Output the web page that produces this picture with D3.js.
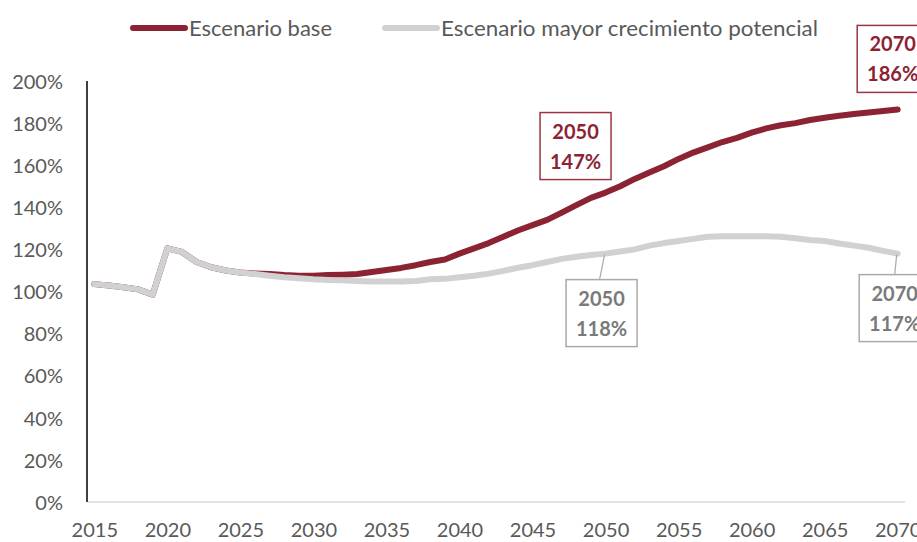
<!DOCTYPE html>
<html>
<head>
<meta charset="utf-8">
<script src="https://cdn.jsdelivr.net/npm/d3@7"></script>
<style>
  html, body { margin: 0; padding: 0; background: #fff; }
  svg { display: block; }
  text { font-family: Lato, "Open Sans", sans-serif; }
</style>
</head>
<body>
<svg id="chart" width="917" height="542"></svg>
<script>
// ---------- DATA ----------
const years = [2015,2016,2017,2018,2019,2020,2021,2022,2023,2024,2025,2026,2027,2028,2029,
  2030,2031,2032,2033,2034,2035,2036,2037,2038,2039,2040,2041,2042,2043,2044,
  2045,2046,2047,2048,2049,2050,2051,2052,2053,2054,2055,2056,2057,2058,2059,
  2060,2061,2062,2063,2064,2065,2066,2067,2068,2069,2070];

const escenarioBase = [103.5,102.8,102.0,101.0,98.5,120.5,118.8,114.0,111.5,110.0,109.0,108.6,108.3,107.8,107.5,
  107.5,107.8,108.0,108.3,109.3,110.2,111.2,112.5,114.0,115.2,118.0,120.5,123.0,126.0,129.0,
  131.5,134.0,137.5,141.0,144.5,147.0,150.0,153.5,156.5,159.5,163.0,166.0,168.5,171.0,173.0,
  175.5,177.5,179.0,180.0,181.5,182.5,183.5,184.3,185.0,185.7,186.5];

const escenarioMayor = [103.5,102.8,102.0,101.0,98.5,120.5,118.8,114.0,111.5,110.0,109.0,108.3,107.5,106.8,106.3,
  105.8,105.5,105.3,105.0,104.8,104.8,104.8,105.0,105.8,106.0,106.8,107.5,108.5,109.8,111.3,
  112.5,114.0,115.5,116.5,117.3,118.0,119.0,120.0,121.8,123.0,124.0,125.0,126.0,126.2,126.2,
  126.2,126.2,126.0,125.3,124.5,124.0,122.8,121.8,120.8,119.3,118.0];

const seriesNames = ["Escenario base", "Escenario mayor crecimiento potencial"];
const yTicks = [0,20,40,60,80,100,120,140,160,180,200];
const xTicks = [2015,2020,2025,2030,2035,2040,2045,2050,2055,2060,2065,2070];

// annotations: [series index, year, label value]
const annotations = [
  {s: 0, year: 2050, label: "147%"},
  {s: 0, year: 2070, label: "186%"},
  {s: 1, year: 2050, label: "118%"},
  {s: 1, year: 2070, label: "117%"}
];

// ---------- STYLE / LAYOUT ----------
const colors = ["#8c2333", "#d0d1d0"];
const textColors = ["#8c2333", "#7a7a7a"];
const boxBorder = ["#9b3543", "#a9a9a9"];
const axisTextColor = "#595959";

const svg = d3.select("#chart");

const x = d3.scalePoint().domain(years).range([87, 905]).padding(0.5);
const y = d3.scaleLinear().domain([0, 200]).range([502, 81]);

// Y axis labels
const yAxis = d3.axisLeft(y).tickValues(yTicks).tickSize(0).tickPadding(24)
  .tickFormat(d => d + "%");
const gy = svg.append("g").attr("transform", "translate(87,0)").call(yAxis);
gy.select(".domain").remove();
gy.selectAll("text").attr("fill", axisTextColor).style("font-size", "20px")
  .style("font-family", "Lato, 'Open Sans', sans-serif").attr("dy", "0.36em");

// X axis labels
const xAxis = d3.axisBottom(x).tickValues(xTicks).tickSize(0);
const gx = svg.append("g").attr("transform", "translate(0,502)").call(xAxis);
gx.select(".domain").remove();
gx.selectAll("text").attr("fill", axisTextColor).style("font-size", "20px")
  .style("font-family", "Lato, 'Open Sans', sans-serif").attr("dy", null).attr("y", 35);

// baseline (category axis)
svg.append("line").attr("x1", 87).attr("x2", 905).attr("y1", y(0)).attr("y2", y(0))
  .attr("stroke", "#d9d9d9").attr("stroke-width", 1.5);
// value axis line
svg.append("line").attr("x1", 87).attr("x2", 87).attr("y1", y(200)).attr("y2", y(0))
  .attr("stroke", "#000").attr("stroke-width", 1.5);

// Lines
const allSeries = [escenarioBase, escenarioMayor];
const line = d3.line().x((d, i) => x(years[i])).y(d => y(d));
allSeries.forEach((vals, si) => {
  svg.append("path").datum(vals)
    .attr("d", line)
    .attr("fill", "none")
    .attr("stroke", colors[si])
    .attr("stroke-width", 6)
    .attr("stroke-linejoin", "round")
    .attr("stroke-linecap", "round");
});

// Legend
const legendItems = [
  {x1: 133, x2: 185, tx: 189, tw: 143},
  {x1: 385, x2: 437, tx: 441, tw: 377}
];
legendItems.forEach((li, i) => {
  svg.append("line").attr("x1", li.x1).attr("x2", li.x2).attr("y1", 28).attr("y2", 28)
    .attr("stroke", colors[i]).attr("stroke-width", 6).attr("stroke-linecap", "round");
  svg.append("text").attr("x", li.tx).attr("y", 36)
    .attr("fill", axisTextColor).style("font-size", "21px")
    .attr("textLength", li.tw).attr("lengthAdjust", "spacingAndGlyphs")
    .text(seriesNames[i]);
});

// Annotation boxes (offsets relative to the data point)
const boxOffsets = {
  "0-2050": {dx: -30, dy: -80, leader: false},
  "0-2070": {dx: -5, dy: -84, leader: false},
  "1-2050": {dx: -4, dy: 26, leader: true},
  "1-2070": {dx: -3, dy: 21, leader: true}
};
const bw = 71, bh = 67;
annotations.forEach(a => {
  const vals = allSeries[a.s];
  const px = x(a.year), py = y(vals[years.indexOf(a.year)]);
  const o = boxOffsets[a.s + "-" + a.year];
  const cx = px + o.dx, top = py + o.dy;
  if (o.leader) {
    svg.append("line").attr("x1", px - 1).attr("y1", py + 1).attr("x2", cx + (a.year === 2050 ? -2 : 0)).attr("y2", top)
      .attr("stroke", boxBorder[a.s]).attr("stroke-width", 1.2);
  }
  svg.append("rect").attr("x", cx - bw / 2).attr("y", top).attr("width", bw).attr("height", bh)
    .attr("fill", "#fff").attr("stroke", boxBorder[a.s]).attr("stroke-width", 1.5);
  const g = svg.append("text").attr("text-anchor", "middle").attr("fill", textColors[a.s])
    .style("font-size", "20px").style("font-weight", "bold");
  g.append("tspan").attr("x", cx).attr("y", top + 26).text(a.year);
  g.append("tspan").attr("x", cx).attr("y", top + 56).text(a.label);
});
</script>
</body>
</html>
